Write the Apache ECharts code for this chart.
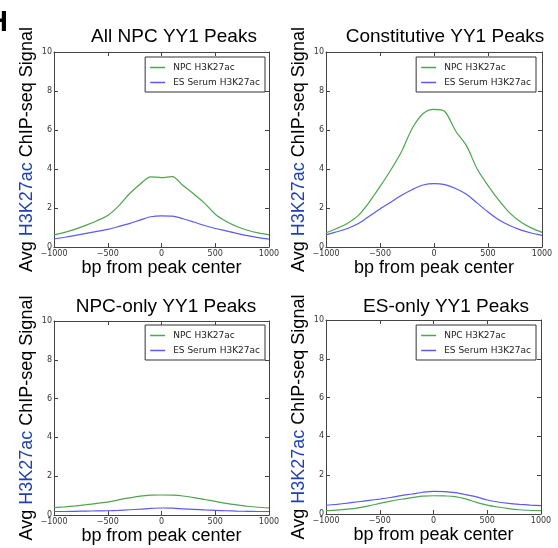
<!DOCTYPE html>
<html lang="en">
<head>
    <meta charset="UTF-8">
    <title>YY1 peaks H3K27ac</title>
    <script src="https://cdn.jsdelivr.net/npm/echarts@6/dist/echarts.min.js"></script>
    <style>
        body { margin: 0; background: #fff; }
        #myChart { width: 558px; height: 548px; }
    </style>
</head>
<body>
<div id="myChart"></div>
<script>
    // positions (bp from peak center)
    var bp = [-1000, -900, -800, -700, -600, -500, -400, -300, -200, -100, 0,
              100, 200, 300, 400, 500, 600, 700, 800, 900, 1000];
    var xTicks = [-1000, -500, 0, 500, 1000];
    var yTicks = [0, 2, 4, 6, 8, 10];
    var seriesNames = ['NPC H3K27ac', 'ES Serum H3K27ac'];
    var panelTitles = ['All NPC YY1 Peaks', 'Constitutive YY1 Peaks', 'NPC-only YY1 Peaks', 'ES-only YY1 Peaks'];

    var allNpc = [0.62, 0.75, 0.92, 1.12, 1.35, 1.62, 2.1, 2.72, 3.22, 3.6, 3.56,
                  3.61, 3.15, 2.72, 2.25, 1.68, 1.32, 1.05, 0.86, 0.72, 0.62];
    var allEs = [0.41, 0.5, 0.6, 0.7, 0.8, 0.9, 1.05, 1.2, 1.38, 1.55, 1.6,
                 1.58, 1.45, 1.28, 1.1, 0.95, 0.83, 0.7, 0.58, 0.48, 0.4];
    var constNpc = [0.73, 0.95, 1.22, 1.62, 2.3, 3.1, 3.95, 4.9, 6.1, 6.85, 7.06,
                    6.95, 5.95, 5.2, 4.0, 3.15, 2.4, 1.75, 1.3, 0.98, 0.75];
    var constEs = [0.62, 0.78, 0.95, 1.2, 1.58, 1.95, 2.3, 2.65, 2.95, 3.18, 3.25,
                   3.2, 3.0, 2.7, 2.25, 1.8, 1.4, 1.1, 0.88, 0.72, 0.6];
    var npcOnlyNpc = [0.38, 0.42, 0.47, 0.53, 0.6, 0.66, 0.78, 0.88, 0.97, 1.02, 1.03,
                      1.02, 0.98, 0.9, 0.8, 0.7, 0.6, 0.52, 0.45, 0.4, 0.37];
    var npcOnlyEs = [0.18, 0.18, 0.19, 0.2, 0.21, 0.22, 0.24, 0.27, 0.3, 0.34, 0.36,
                     0.35, 0.32, 0.29, 0.26, 0.24, 0.22, 0.2, 0.19, 0.18, 0.18];
    var esOnlyNpc = [0.17, 0.2, 0.25, 0.32, 0.42, 0.55, 0.66, 0.76, 0.84, 0.92, 0.94,
                     0.93, 0.9, 0.78, 0.6, 0.46, 0.36, 0.28, 0.22, 0.19, 0.17];
    var esOnlyEs = [0.45, 0.5, 0.56, 0.63, 0.7, 0.77, 0.85, 0.95, 1.03, 1.12, 1.17,
                    1.15, 1.1, 1.0, 0.88, 0.72, 0.62, 0.55, 0.5, 0.46, 0.43];

    var panelData = [[allNpc, allEs], [constNpc, constEs], [npcOnlyNpc, npcOnlyEs], [esOnlyNpc, esOnlyEs]];

    // layout (px)
    var grids = [
        {left: 54, top: 52, width: 215, height: 195},
        {left: 326, top: 52, width: 216, height: 195},
        {left: 54, top: 321, width: 215, height: 194},
        {left: 326, top: 320, width: 215, height: 194}
    ];
    var titlePos = [{x: 169, y: 22}, {x: 440, y: 22}, {x: 161, y: 292}, {x: 441, y: 292}];
    var legendPos = [{right: 293, top: 57}, {right: 22, top: 57}, {right: 293, top: 325}, {right: 22, top: 325}];

    var colors = ['#4ca64c', '#5a5af2'];
    var frame = '#444';
    var bigFont = 'Liberation Sans, Arial, sans-serif';
    var smallFont = 'DejaVu Sans, sans-serif';

    function fmt(v) {
        return v < 0 ? '\u2212' + (-v) : String(v);
    }

    var option = {
        backgroundColor: '#fff',
        animation: false,
        title: [], grid: [], xAxis: [], yAxis: [], legend: [], series: [],
        graphic: [{
            type: 'text', left: -13, top: 8,
            style: {text: 'H', font: 'bold 29px ' + bigFont, fill: '#000'}
        }]
    };

    for (let i = 0; i < 4; i++) {
        option.grid.push(Object.assign({show: false}, grids[i]));
        option.title.push({
            text: panelTitles[i], left: titlePos[i].x, top: titlePos[i].y, textAlign: 'center',
            textStyle: {fontFamily: bigFont, fontSize: 19, fontWeight: 'normal', color: '#000'}
        });
        var tickCfg = {show: true, inside: true, length: 4, lineStyle: {color: frame}};
        var lineCfg = {show: true, onZero: false, lineStyle: {color: frame, width: 1}};
        // bottom axis with labels
        option.xAxis.push({
            type: 'value', gridIndex: i, min: -1000, max: 1000, interval: 500, position: 'bottom',
            axisLine: lineCfg, axisTick: tickCfg, splitLine: {show: false},
            axisLabel: {formatter: fmt, fontFamily: smallFont, fontSize: 8, color: '#333', margin: 3},
            name: 'bp from peak center', nameLocation: 'middle', nameGap: 9,
            nameTextStyle: {fontFamily: bigFont, fontSize: 18, color: '#000', verticalAlign: 'top'}
        });
        // top axis for frame
        option.xAxis.push({
            type: 'value', gridIndex: i, min: -1000, max: 1000, interval: 500, position: 'top',
            axisLine: lineCfg, axisTick: tickCfg,
            axisLabel: {show: false}, splitLine: {show: false}
        });
        option.yAxis.push({
            type: 'value', gridIndex: i, min: 0, max: 10, interval: 2, position: 'left',
            axisLine: lineCfg, axisTick: tickCfg, splitLine: {show: false},
            axisLabel: {fontFamily: smallFont, fontSize: 8, color: '#333', margin: 2},
            name: '{a|Avg }{b|H3K27ac}{a| ChIP-seq Signal}', nameLocation: 'middle', nameRotate: 90, nameGap: 18,
            nameTextStyle: {
                fontFamily: bigFont, fontSize: 18, color: '#000',
                rich: {
                    a: {fontFamily: bigFont, fontSize: 18, color: '#000'},
                    b: {fontFamily: bigFont, fontSize: 18, color: '#1f3fb4'}
                }
            }
        });
        option.yAxis.push({
            type: 'value', gridIndex: i, min: 0, max: 10, interval: 2, position: 'right',
            axisLine: lineCfg, axisTick: tickCfg,
            axisLabel: {show: false}, splitLine: {show: false}
        });
        option.legend.push({
            orient: 'vertical', right: legendPos[i].right, top: legendPos[i].top,
            data: seriesNames, icon: 'rect', itemWidth: 15, itemHeight: 1.5, itemGap: 4,
            padding: [5, 5, 4, 5], borderColor: '#333', borderWidth: 1, borderRadius: 0,
            backgroundColor: '#fff', selectedMode: false,
            textStyle: {fontFamily: smallFont, fontSize: 9, color: '#222', lineHeight: 11, padding: [0, 0, 0, 3]}
        });
        for (let s = 0; s < 2; s++) {
            option.series.push({
                name: seriesNames[s], type: 'line', xAxisIndex: i * 2, yAxisIndex: i * 2,
                data: bp.map(function (x, k) { return [x, panelData[i][s][k]]; }),
                showSymbol: false, smooth: 0.3,
                lineStyle: {color: colors[s], width: 1.2},
                itemStyle: {color: colors[s]}
            });
        }
    }

    var myChart = echarts.init(document.getElementById('myChart'));
    myChart.setOption(option);
</script>
</body>
</html>
